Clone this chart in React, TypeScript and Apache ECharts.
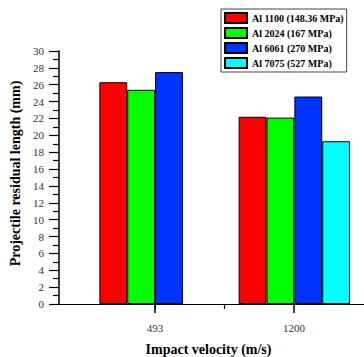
import React, { useEffect, useRef } from "react";
import * as echarts from "echarts";

const categories = ["493", "1200"];
const categoryPositions = [1, 2];
const seriesNames = [
  "Al 1100 (148.36 MPa)",
  "Al 2024 (167 MPa)",
  "Al 6061 (270 MPa)",
  "Al 7075 (527 MPa)",
];
const al1100 = [26.3, 22.2];
const al2024 = [25.4, 22.1];
const al6061 = [27.5, 24.6];
const al7075: (number | null)[] = [null, 19.3];
const colors = ["#ff0000", "#00ff00", "#0033ff", "#00ffff"];
const yTicks = [0, 30, 2];
const minorTickCategories = ["", ""];

const FONT = "'Liberation Serif', 'Times New Roman', serif";

export default function App() {
  const ref = useRef<HTMLDivElement>(null);
  useEffect(() => {
    if (!ref.current) return;
    const chart = echarts.init(ref.current, undefined, { renderer: "svg" });
    const values = [al1100, al2024, al6061, al7075];
    const series = values.map((vals, i) => ({
      name: seriesNames[i],
      type: "bar",
      xAxisIndex: 0,
      yAxisIndex: 0,
      barGap: "0%",
      barCategoryGap: "20%",
      itemStyle: { color: colors[i], borderColor: "#000", borderWidth: 1 },
      data: vals.map((v, j) => (v == null ? [categoryPositions[j], "-"] : [categoryPositions[j], v])),
    }));
    chart.setOption({
      animation: false,
      textStyle: { fontFamily: FONT },
      grid: [
        { left: 59, top: 51, right: 0, bottom: 53, containLabel: false, outerBoundsMode: "none" },
        // tick/label band between the two category centres
        { left: 155, top: 51, right: 70, bottom: 53, containLabel: false, outerBoundsMode: "none" },
        // minor tick half-band
        { left: 155, top: 51, right: 139.5, bottom: 53, containLabel: false, outerBoundsMode: "none" },
      ],
      legend: {
        orient: "vertical",
        left: 221,
        top: 9,
        itemWidth: 22,
        itemHeight: 10,
        itemGap: 3,
        padding: [3, 3, 3, 3],
        borderColor: "#444",
        borderWidth: 1,
        backgroundColor: "#fff",
        icon: "rect",
        textStyle: { fontFamily: FONT, fontWeight: "bold", fontSize: 10, color: "#000" },
        data: seriesNames,
      },
      xAxis: [
        {
          gridIndex: 0,
          type: "value",
          min: 0.31,
          max: 2.5,
          position: "bottom",
          name: "Impact velocity (m/s)",
          nameLocation: "middle",
          nameGap: 38,
          nameTextStyle: {
            fontFamily: FONT,
            fontWeight: "bold",
            fontSize: 14,
            color: "#000",
            padding: [0, 6, 0, 0],
          },
          splitLine: { show: false },
          axisLine: { show: true, onZero: false, lineStyle: { color: "#000", width: 1.2 } },
          axisTick: { show: false },
          axisLabel: { show: false },
        },
        {
          gridIndex: 1,
          type: "category",
          data: categories,
          boundaryGap: false,
          position: "bottom",
          splitLine: { show: false },
          axisLine: { show: false, onZero: false },
          axisTick: { show: true, interval: 0, length: 9, lineStyle: { color: "#000", width: 1.5 } },
          axisLabel: {
            show: true,
            interval: 0,
            margin: 18,
            fontFamily: FONT,
            fontSize: 11,
            color: "#333",
          },
        },
        {
          gridIndex: 2,
          type: "category",
          data: minorTickCategories,
          boundaryGap: false,
          position: "bottom",
          splitLine: { show: false },
          axisLine: { show: false, onZero: false },
          axisTick: { show: true, interval: 0, length: 5, lineStyle: { color: "#000", width: 1.2 } },
          axisLabel: { show: false },
        },
      ],
      yAxis: [
        {
          gridIndex: 0,
          type: "value",
          min: yTicks[0],
          max: yTicks[1],
          interval: yTicks[2],
          name: "Projectile residual length (mm)",
          nameLocation: "middle",
          nameGap: 33,
          nameTextStyle: {
            fontFamily: FONT,
            fontWeight: "bold",
            fontSize: 14,
            color: "#000",
            padding: [0, 0, 0, 8],
          },
          splitLine: { show: false },
          axisLine: { show: true, lineStyle: { color: "#000", width: 1.5 } },
          axisTick: { show: true, length: 10, lineStyle: { color: "#000", width: 1.2 } },
          minorTick: { show: true, splitNumber: 2, length: 6, lineStyle: { color: "#000", width: 1.2 } },
          axisLabel: { margin: 15, fontFamily: FONT, fontSize: 11, color: "#333" },
        },
        { gridIndex: 1, type: "value", min: 0, max: 1, show: false },
        { gridIndex: 2, type: "value", min: 0, max: 1, show: false },
      ],
      series,
    });
    return () => chart.dispose();
  }, []);
  return <div ref={ref} style={{ width: 364, height: 357, position: "absolute", left: 0, top: 0 }} />;
}
